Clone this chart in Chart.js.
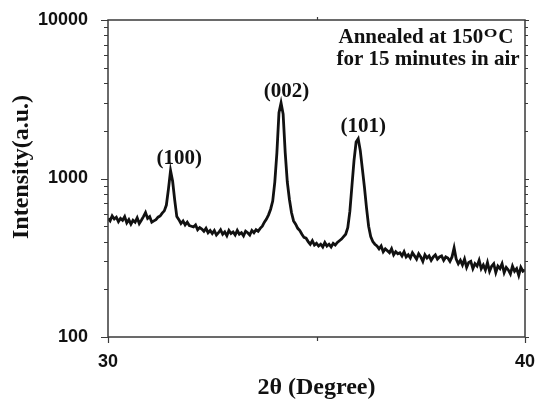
<!DOCTYPE html>
<html>
<head>
<meta charset="utf-8">
<script src="https://cdn.jsdelivr.net/npm/chart.js@4.4.1/dist/chart.umd.min.js"></script>
<style>
  html, body { margin: 0; padding: 0; background: #fff; }
  #wrap { width: 537px; height: 402px; position: relative; }
</style>
</head>
<body>
<div id="wrap"><canvas id="xrd" width="537" height="402"></canvas></div>
<script>
/* XRD pattern, 2theta 30-40 deg, log intensity axis */

const twoTheta = [
  30.00, 30.05, 30.10, 30.15, 30.20, 30.25, 30.30, 30.35, 30.40, 30.45,
  30.50, 30.55, 30.60, 30.65, 30.70, 30.75, 30.80, 30.85, 30.90, 30.95,
  31.00, 31.05, 31.10, 31.15, 31.20, 31.25, 31.30, 31.35, 31.40, 31.45,
  31.50, 31.55, 31.60, 31.65, 31.70, 31.75, 31.80, 31.85, 31.90, 31.95,
  32.00, 32.05, 32.10, 32.15, 32.20, 32.25, 32.30, 32.35, 32.40, 32.45,
  32.50, 32.55, 32.60, 32.65, 32.70, 32.75, 32.80, 32.85, 32.90, 32.95,
  33.00, 33.05, 33.10, 33.15, 33.20, 33.25, 33.30, 33.35, 33.40, 33.45,
  33.50, 33.55, 33.60, 33.65, 33.70, 33.75, 33.80, 33.85, 33.90, 33.95,
  34.00, 34.05, 34.10, 34.15, 34.20, 34.25, 34.30, 34.35, 34.40, 34.45,
  34.50, 34.55, 34.60, 34.65, 34.70, 34.75, 34.80, 34.85, 34.90, 34.95,
  35.00, 35.05, 35.10, 35.15, 35.20, 35.25, 35.30, 35.35, 35.40, 35.45,
  35.50, 35.55, 35.60, 35.65, 35.70, 35.75, 35.80, 35.85, 35.90, 35.95,
  36.00, 36.05, 36.10, 36.15, 36.20, 36.25, 36.30, 36.35, 36.40, 36.45,
  36.50, 36.55, 36.60, 36.65, 36.70, 36.75, 36.80, 36.85, 36.90, 36.95,
  37.00, 37.05, 37.10, 37.15, 37.20, 37.25, 37.30, 37.35, 37.40, 37.45,
  37.50, 37.55, 37.60, 37.65, 37.70, 37.75, 37.80, 37.85, 37.90, 37.95,
  38.00, 38.05, 38.10, 38.15, 38.20, 38.25, 38.30, 38.35, 38.40, 38.45,
  38.50, 38.55, 38.60, 38.65, 38.70, 38.75, 38.80, 38.85, 38.90, 38.95,
  39.00, 39.05, 39.10, 39.15, 39.20, 39.25, 39.30, 39.35, 39.40, 39.45,
  39.50, 39.55, 39.60, 39.65, 39.70, 39.75, 39.80, 39.85, 39.90, 39.95,
  40.00
];

const intensity = [
  560, 540, 580, 555, 570, 535, 560, 545, 575, 525,
  550, 515, 545, 530, 565, 520, 545, 575, 610, 560,
  575, 530, 540, 550, 570, 580, 605, 625, 680, 860,
  1120, 960, 730, 575, 550, 520, 540, 510, 530, 505,
  500, 495, 510, 475, 490, 480, 465, 485, 455, 470,
  450, 470, 440, 455, 475, 445, 460, 435, 470, 450,
  460, 440, 470, 445, 455, 435, 465, 455, 440, 470,
  455, 475, 465, 485, 500, 530, 555, 590, 640, 720,
  950, 1450, 2600, 3000, 2550, 1450, 950, 740, 610, 540,
  515, 485, 470, 445, 425, 420, 400, 385, 405, 380,
  390, 375, 385, 370, 395, 375, 385, 370, 390, 380,
  395, 405, 415, 430, 445, 490, 620, 900, 1300, 1700,
  1780, 1500, 1150, 880, 650, 500, 430, 400, 385, 375,
  360, 375, 345, 360, 350, 340, 360, 330, 345, 335,
  340, 325, 345, 320, 330, 315, 340, 325, 310, 335,
  320, 300, 330, 315, 325, 305, 320, 330, 310, 320,
  325, 305, 320, 315, 300, 320, 365, 310, 290, 305,
  285, 310, 275, 295, 300, 270, 290, 280, 305, 270,
  285, 265, 295, 260, 280, 290, 255, 280, 270, 290,
  255, 275, 265, 250, 280, 260, 270, 245, 275, 260,
  265
];

// peak labels (hkl), anchored in data coords (baseline of text)
const peakLabels = ["(100)", "(002)", "(101)"];
const peakLabelX = [31.71, 34.28, 36.12];
const peakLabelY = [1240, 3270, 1960];

const xLabelTicks = [30, 40];
const xTickMarks  = [30, 35, 40];
const yLabelTicks = [100, 1000, 10000];
const yMinorTicks = [200, 300, 400, 500, 600, 700, 800, 900,
                     2000, 3000, 4000, 5000, 6000, 7000, 8000, 9000];

const noteLines = ["Annealed at 150", "for 15 minutes in air"];
const xTitle = "2θ (Degree)";
const yTitle = "Intensity(a.u.)";

const SANS  = "'Liberation Sans', Arial, sans-serif";
const SERIF = "'Liberation Serif', 'Times New Roman', serif";
const AXIS_COL = "#3a3a3a";

const decorPlugin = {
  id: "decor",
  afterDraw(chart) {
    const ctx = chart.ctx;
    const a = chart.chartArea;
    const xs = chart.scales.x, ys = chart.scales.y;
    ctx.save();

    // frame
    ctx.strokeStyle = AXIS_COL;
    ctx.lineWidth = 1.5;
    ctx.strokeRect(a.left, a.top, a.right - a.left, a.bottom - a.top);

    // y ticks: outward on left, short outward on right
    ctx.lineWidth = 1.2;
    ctx.beginPath();
    yLabelTicks.concat(yMinorTicks).forEach(v => {
      const py = Math.round(ys.getPixelForValue(v)) + 0.5;
      const major = yLabelTicks.includes(v);
      ctx.moveTo(a.left - (major ? 7 : 4), py);
      ctx.lineTo(a.left, py);
      ctx.moveTo(a.right, py);
      ctx.lineTo(a.right + (major ? 4 : 3), py);
    });
    // x ticks: downward on bottom, one on top at 35
    xTickMarks.forEach(v => {
      const px = Math.round(xs.getPixelForValue(v)) + 0.5;
      const major = xLabelTicks.includes(v);
      ctx.moveTo(px, a.bottom);
      ctx.lineTo(px, a.bottom + (major ? 6 : 4));
      if (!major) {
        ctx.moveTo(px, a.top);
        ctx.lineTo(px, a.top - 3);
      }
    });
    ctx.stroke();

    // peak labels
    ctx.fillStyle = "#111";
    ctx.font = "bold 21px " + SERIF;
    ctx.textAlign = "center";
    ctx.textBaseline = "alphabetic";
    peakLabels.forEach((t, i) => {
      ctx.fillText(t, xs.getPixelForValue(peakLabelX[i]), ys.getPixelForValue(peakLabelY[i]));
    });

    // note top-right, first line has a (wide) superscript O before C
    const cx = 426;
    const big = "bold 21px " + SERIF, sup = "bold 13px " + SERIF, supStretch = 1.35;
    ctx.font = big;
    const w1 = ctx.measureText(noteLines[0]).width;
    const wC = ctx.measureText("C").width;
    ctx.font = sup;
    const wSup = ctx.measureText("O").width * supStretch;
    const x0 = cx - (w1 + wSup + 1.5 + wC) / 2;
    ctx.textAlign = "left";
    ctx.font = big;
    ctx.fillText(noteLines[0], x0, 43);
    ctx.fillText("C", x0 + w1 + wSup + 1.5, 43);
    ctx.save();
    ctx.font = sup;
    ctx.translate(x0 + w1 + 0.5, 37);
    ctx.scale(supStretch, 1);
    ctx.fillText("O", 0, 0);
    ctx.restore();
    ctx.textAlign = "center";
    ctx.fillText(noteLines[1], 428, 65);

    // axis titles
    ctx.font = "bold 24px " + SERIF;
    ctx.fillText(xTitle, (a.left + a.right) / 2, 394);
    ctx.save();
    ctx.translate(28, 167);
    ctx.rotate(-Math.PI / 2);
    ctx.fillText(yTitle, 0, 0);
    ctx.restore();

    ctx.restore();
  }
};

new Chart(document.getElementById("xrd"), {
  type: "line",
  data: {
    datasets: [{
      data: twoTheta.map((t, i) => ({ x: t, y: intensity[i] })),
      borderColor: "#111",
      borderWidth: 2.8,
      pointRadius: 0,
      tension: 0,
      fill: false
    }]
  },
  options: {
    responsive: false,
    animation: false,
    layout: { padding: { top: 20, right: 12, left: 0, bottom: 0 } },
    plugins: { legend: { display: false }, tooltip: { enabled: false } },
    scales: {
      x: {
        type: "linear",
        min: 30, max: 40,
        afterBuildTicks: s => { s.ticks = xLabelTicks.map(v => ({ value: v })); },
        afterFit: s => { s.height = 65; s.paddingLeft = 0; s.paddingRight = 0; },
        grid: { display: false, drawTicks: false },
        border: { display: false },
        ticks: {
          color: "#111",
          padding: 14,
          maxRotation: 0,
          font: { family: SANS, size: 18, weight: "bold" },
          callback: v => String(v)
        }
      },
      y: {
        type: "logarithmic",
        min: 100, max: 10000,
        afterBuildTicks: s => { s.ticks = yLabelTicks.map(v => ({ value: v })); },
        afterFit: s => { s.width = 108; s.paddingTop = 0; s.paddingBottom = 0; },
        grid: { display: false, drawTicks: false },
        border: { display: false },
        ticks: {
          color: "#111",
          padding: 20,
          autoSkip: false,
          font: { family: SANS, size: 18, weight: "bold" },
          callback: v => String(v)
        }
      }
    }
  },
  plugins: [decorPlugin]
});
</script>
</body>
</html>
